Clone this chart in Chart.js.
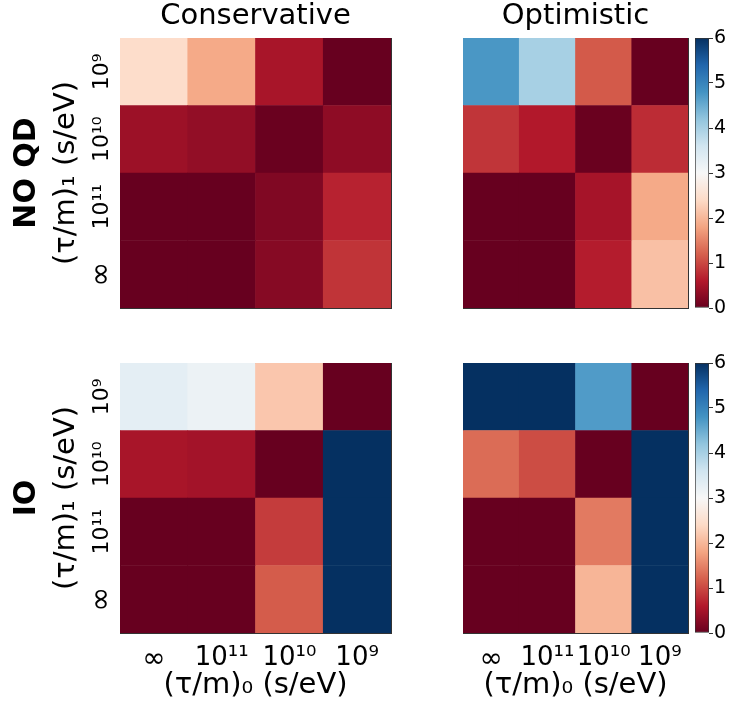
<!DOCTYPE html>
<html>
<head>
<meta charset="utf-8">
<script src="https://cdn.jsdelivr.net/npm/chart.js@4"></script>
<style>
  body { margin: 0; background: #fff; }
  #page { position: relative; width: 734px; height: 719px; overflow: hidden; }
  .box { position: absolute; }
</style>
</head>
<body>
<div id="page">
  <div class="box" style="left:0;top:0;width:394px;height:312px"><canvas id="tl"></canvas></div>
  <div class="box" style="left:410px;top:0;width:281px;height:312px"><canvas id="tr"></canvas></div>
  <div class="box" style="left:688px;top:26px;width:46px;height:294px"><canvas id="cbTop"></canvas></div>
  <div class="box" style="left:0;top:355px;width:394px;height:364px"><canvas id="bl"></canvas></div>
  <div class="box" style="left:410px;top:355px;width:281px;height:364px"><canvas id="br"></canvas></div>
  <div class="box" style="left:688px;top:351px;width:46px;height:294px"><canvas id="cbBottom"></canvas></div>
</div>
<script>
// columns (τ/m)0, rows (τ/m)1 listed top to bottom
const xLabels = ['∞', '10¹¹', '10¹⁰', '10⁹'];
const yLabels = ['10⁹', '10¹⁰', '10¹¹', '∞'];
const colorRange = [0, 6];

const noqdConservative = [
  [2.45, 1.85, 0.52, 0.0],
  [0.42, 0.34, 0.02, 0.31],
  [0.0, 0.0, 0.2, 0.68],
  [0.0, 0.0, 0.25, 0.83],
];
const noqdOptimistic = [
  [4.75, 4.0, 1.15, 0.0],
  [0.84, 0.6, 0.02, 0.77],
  [0.0, 0.0, 0.5, 1.85],
  [0.0, 0.0, 0.63, 2.1],
];
const ioConservative = [
  [3.3, 3.17, 2.17, 0.0],
  [0.52, 0.48, 0.0, 6.0],
  [0.0, 0.0, 0.9, 6.0],
  [0.0, 0.0, 1.17, 6.0],
];
const ioOptimistic = [
  [6.0, 6.0, 4.7, 0.0],
  [1.3, 1.04, 0.0, 6.0],
  [0.0, 0.0, 1.43, 6.0],
  [0.0, 0.0, 1.98, 6.0],
];

// matplotlib RdBu
const rdbu = [
  [103, 0, 31], [178, 24, 43], [214, 96, 77], [244, 165, 130], [253, 219, 199],
  [247, 247, 247], [209, 229, 240], [146, 197, 222], [67, 147, 195], [33, 102, 172], [5, 48, 97]
];
const frameColor = '#333';

Chart.defaults.font.family = 'DejaVu Sans';
Chart.defaults.color = '#000';
Chart.defaults.animation = false;
Chart.defaults.plugins.legend.display = false;
Chart.defaults.plugins.tooltip.enabled = false;

function cellColor(v) {
  let t = (v - colorRange[0]) / (colorRange[1] - colorRange[0]);
  t = Math.min(1, Math.max(0, t)) * (rdbu.length - 1);
  const i = Math.min(rdbu.length - 2, Math.floor(t));
  const f = t - i;
  const c = rdbu[i].map((a, k) => Math.round(a + (rdbu[i + 1][k] - a) * f));
  return `rgb(${c[0]},${c[1]},${c[2]})`;
}

// fixed axis sizes so the four panels line up
const fixSize = (size) => (s) => {
  if (s.isHorizontal()) s.height = size; else s.width = size;
  s.paddingTop = s.paddingBottom = s.paddingLeft = s.paddingRight = 0;
};

// ∞ is drawn a bit larger, like the mathtext symbol
const tickFont = (size, extra) => (ctx) => ({ size: ctx.tick && ctx.tick.label === '∞' ? size + extra : size });

const meas = document.createElement('canvas').getContext('2d');
const widestY = Math.max(...yLabels.map(l => {
  meas.font = (l === '∞' ? 30 : 22) + 'px DejaVu Sans';
  return meas.measureText(l).width;
}));
const yTickPad = 18 - widestY / 2;

function makeHeatmap(id, values, opts) {
  // stacked bars, bottom row first
  const datasets = values.slice().reverse().map(row => ({
    data: row.map(() => 1),
    backgroundColor: row.map(cellColor),
    borderWidth: 0,
    barPercentage: 1,
    categoryPercentage: 1,
  }));
  const noGrid = { display: false, drawTicks: false };
  return new Chart(document.getElementById(id), {
    type: 'bar',
    data: { labels: xLabels, datasets },
    options: {
      responsive: true,
      maintainAspectRatio: false,
      layout: { padding: opts.padding },
      plugins: {
        title: {
          display: !!opts.title,
          text: opts.title,
          fullSize: false,
          color: '#000',
          font: { size: 29, weight: 'normal', lineHeight: 1.2 },
          padding: { top: -1, bottom: 4.2 },
        },
      },
      scales: {
        x: {
          type: 'category',
          position: 'bottom',
          stacked: true,
          offset: true,
          grid: noGrid,
          border: { display: true, color: frameColor, width: 1 },
          ticks: { display: opts.showX, font: tickFont(26, 2), padding: 10, maxRotation: 0, autoSkip: false },
          title: {
            display: opts.showX,
            text: '(τ/m)₀ (s/eV)',
            font: { size: 29, lineHeight: 1.2 },
            padding: { top: 0, bottom: 16 },
          },
          afterFit: fixSize(opts.showX ? 86 : 0),
        },
        x2: {
          type: 'category',
          labels: xLabels,
          position: 'top',
          offset: true,
          grid: noGrid,
          border: { display: true, color: frameColor, width: 1 },
          ticks: { display: false },
          afterFit: fixSize(0),
        },
        y: {
          type: 'linear',
          stacked: true,
          min: 0,
          max: 4,
          position: 'left',
          weight: 10,
          display: opts.showY,
          grid: noGrid,
          border: { display: false },
          ticks: { display: false },
          title: {
            display: true,
            text: opts.rowName,
            font: { size: 30, weight: 'bold', lineHeight: 1.2 },
            padding: { top: 9, bottom: 0 },
          },
          afterFit: fixSize(46),
        },
        yl: {
          type: 'category',
          labels: yLabels,
          position: 'left',
          offset: true,
          weight: 0,
          grid: noGrid,
          border: { display: true, color: frameColor, width: 1 },
          ticks: {
            display: opts.showY,
            font: tickFont(22, 8),
            minRotation: 90,
            maxRotation: 90,
            crossAlign: 'center',
            padding: yTickPad,
            autoSkip: false,
          },
          title: {
            display: opts.showY,
            text: '(τ/m)₁ (s/eV)',
            font: { size: 29, lineHeight: 1.2 },
            padding: { top: 2.6, bottom: 0 },
          },
          afterFit: fixSize(opts.showY ? 74 : 0),
        },
        y2: {
          type: 'linear',
          min: 0,
          max: 4,
          position: 'right',
          grid: noGrid,
          border: { display: true, color: frameColor, width: 1 },
          ticks: { display: false },
          afterFit: fixSize(0),
        },
      },
    },
  });
}

function makeColorbar(id) {
  return new Chart(document.getElementById(id), {
    type: 'bar',
    data: {
      labels: [''],
      datasets: [{
        data: [colorRange],
        backgroundColor: (ctx) => {
          const a = ctx.chart.chartArea;
          if (!a) return cellColor(3);
          const g = ctx.chart.ctx.createLinearGradient(0, a.bottom, 0, a.top);
          rdbu.forEach((c, i) => g.addColorStop(i / (rdbu.length - 1), `rgb(${c[0]},${c[1]},${c[2]})`));
          return g;
        },
        borderColor: frameColor,
        borderWidth: 1,
        borderSkipped: false,
        barPercentage: 1,
        categoryPercentage: 1,
      }],
    },
    options: {
      responsive: true,
      maintainAspectRatio: false,
      layout: { padding: { left: 7, top: 12, bottom: 12, right: 0 } },
      scales: {
        x: { display: false },
        y: {
          position: 'right',
          min: colorRange[0],
          max: colorRange[1],
          ticks: { stepSize: 1, font: { size: 19 }, padding: 1 },
          grid: { drawOnChartArea: false, tickLength: 4, color: frameColor },
          border: { display: false },
          afterFit: fixSize(25),
        },
      },
    },
  });
}

makeHeatmap('tl', noqdConservative, {
  title: 'Conservative', rowName: 'NO QD', showX: false, showY: true,
  padding: { left: 0, top: 0, right: 3, bottom: 4 },
});
makeHeatmap('tr', noqdOptimistic, {
  title: 'Optimistic', rowName: 'NO QD', showX: false, showY: false,
  padding: { left: 7, top: 0, right: 3, bottom: 4 },
});
makeHeatmap('bl', ioConservative, {
  title: '', rowName: 'IO', showX: true, showY: true,
  padding: { left: 0, top: 8, right: 3, bottom: 0 },
});
makeHeatmap('br', ioOptimistic, {
  title: '', rowName: 'IO', showX: true, showY: false,
  padding: { left: 7, top: 8, right: 3, bottom: 0 },
});
makeColorbar('cbTop');
makeColorbar('cbBottom');
</script>
</body>
</html>
